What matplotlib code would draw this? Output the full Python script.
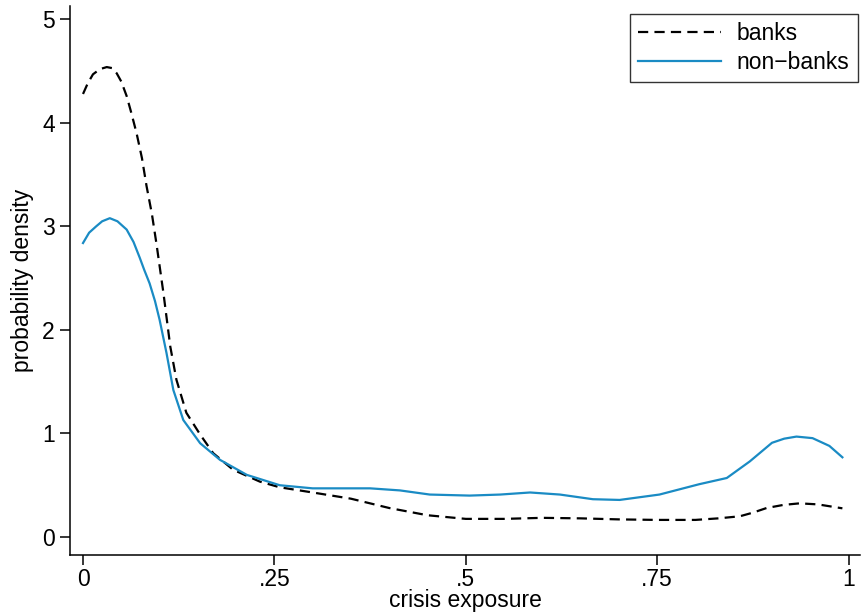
import matplotlib
matplotlib.use('Agg')
import matplotlib.pyplot as plt

# density estimates
x_banks = [0.000, 0.006, 0.013, 0.022, 0.031, 0.038, 0.044, 0.050, 0.057, 0.063,
           0.070, 0.077, 0.083, 0.090, 0.096, 0.105, 0.114, 0.122, 0.135, 0.153,
           0.170, 0.196, 0.231, 0.257, 0.30, 0.35, 0.40, 0.45, 0.50, 0.55,
           0.60, 0.65, 0.70, 0.75, 0.80, 0.83, 0.858, 0.875, 0.893, 0.915,
           0.936, 0.96, 0.992]
y_banks = [4.28, 4.38, 4.47, 4.52, 4.54, 4.53, 4.48, 4.40, 4.26, 4.10,
           3.90, 3.66, 3.39, 3.12, 2.83, 2.36, 1.84, 1.52, 1.20, 0.99,
           0.81, 0.65, 0.535, 0.48, 0.43, 0.37, 0.28, 0.21, 0.175, 0.175,
           0.185, 0.18, 0.17, 0.165, 0.165, 0.18, 0.20, 0.235, 0.28, 0.31,
           0.325, 0.315, 0.277]

x_nonbanks = [0.000, 0.008, 0.017, 0.025, 0.035, 0.045, 0.057, 0.066, 0.074, 0.080,
              0.087, 0.094, 0.100, 0.109, 0.118, 0.131, 0.153, 0.179, 0.214, 0.257,
              0.30, 0.34, 0.375, 0.414, 0.453, 0.505, 0.545, 0.584, 0.623, 0.666,
              0.701, 0.753, 0.805, 0.841, 0.871, 0.900, 0.916, 0.932, 0.953, 0.975,
              0.992]
y_nonbanks = [2.84, 2.94, 3.00, 3.05, 3.08, 3.05, 2.97, 2.85, 2.70, 2.58,
              2.45, 2.28, 2.10, 1.78, 1.42, 1.13, 0.906, 0.745, 0.60, 0.50,
              0.47, 0.47, 0.47, 0.45, 0.41, 0.40, 0.41, 0.43, 0.41, 0.365,
              0.358, 0.41, 0.51, 0.57, 0.73, 0.91, 0.95, 0.97, 0.955, 0.88,
              0.77]

xticks = [0, 0.25, 0.5, 0.75, 1]
xtick_labels = ['0', '.25', '.5', '.75', '1']
yticks = [0, 1, 2, 3, 4, 5]

plt.rcParams['font.family'] = ['Liberation Sans', 'DejaVu Sans']

fig = plt.figure(figsize=(8.61, 6.14), dpi=100)
ax = fig.add_axes([70/861, 59/614, 790/861, 549/614])

ax.plot(x_banks, y_banks, color='black', lw=1.6, dashes=(4.6, 2.8), label='banks')
ax.plot(x_nonbanks, y_nonbanks, color='#1a8bc4', lw=1.6, label='non\u2212banks')

ax.set_xlim(-0.017, 1.015)
ax.set_ylim(-0.174, 5.13)
ax.set_xticks(xticks)
ax.set_xticklabels(xtick_labels)
ax.set_yticks(yticks)

ax.spines['top'].set_visible(False)
ax.spines['right'].set_visible(False)
for s in ('left', 'bottom'):
    ax.spines[s].set_linewidth(1.1)
ax.tick_params(direction='out', length=7, width=1.1, labelsize=16.5, pad=4)
ax.tick_params(axis='x', pad=2)

ax.set_xlabel('crisis exposure', fontsize=16.5, labelpad=-1)
ax.set_ylabel('probability density', fontsize=16.5, labelpad=6)

leg = ax.legend(loc='upper right', bbox_to_anchor=(0.997, 0.985), fontsize=16.5,
                frameon=True, fancybox=False, edgecolor='black', handlelength=3.6,
                borderpad=0.35, labelspacing=0.25, handletextpad=0.7,
                borderaxespad=0)
leg.get_frame().set_linewidth(1.0)

fig.savefig('out.png', dpi=100)
